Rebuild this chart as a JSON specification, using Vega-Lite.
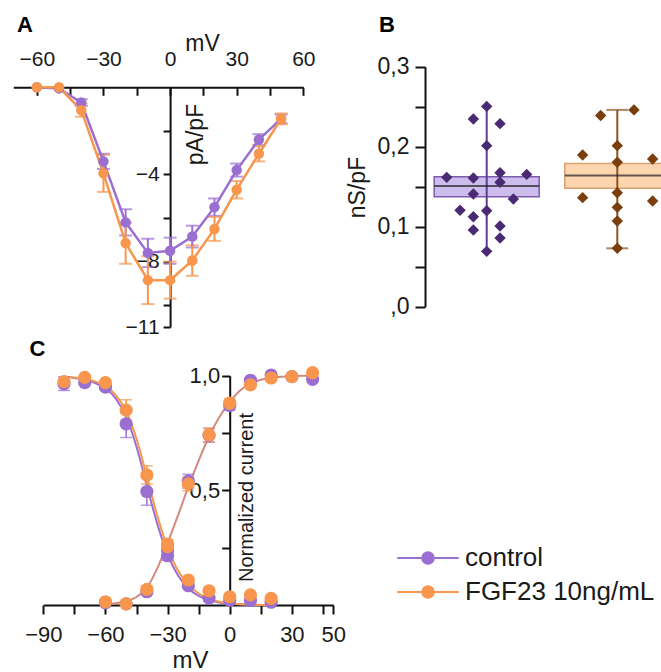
{
  "$schema": "https://vega.github.io/schema/vega-lite/v6.json",
  "width": 661,
  "height": 672,
  "padding": 0,
  "autosize": {"type": "none"},
  "background": "white",
  "config": {
    "view": {"stroke": null},
    "font": "Liberation Sans",
    "axis": {"labelFont": "Liberation Sans", "titleFont": "Liberation Sans", "titleFontWeight": "normal", "labelColor": "#1a1a1a", "titleColor": "#1a1a1a", "domainColor": "#111111", "tickColor": "#111111", "domainWidth": 2, "tickWidth": 2, "grid": false, "labelOverlap": false, "labelFlush": false},
    "legend": {"labelFont": "Liberation Sans"}
  },
  "datasets": {
    "iv": [
      {"series": "control", "mV": -60, "I": 0, "sem": 0},
      {"series": "control", "mV": -50, "I": -0.05, "sem": 0},
      {"series": "control", "mV": -40, "I": -0.7, "sem": 0.15},
      {"series": "control", "mV": -30, "I": -3.4, "sem": 0.35},
      {"series": "control", "mV": -20, "I": -6.2, "sem": 0.6},
      {"series": "control", "mV": -10, "I": -7.6, "sem": 0.65},
      {"series": "control", "mV": 0, "I": -7.5, "sem": 0.6},
      {"series": "control", "mV": 10, "I": -6.85, "sem": 0.5},
      {"series": "control", "mV": 20, "I": -5.5, "sem": 0.4},
      {"series": "control", "mV": 30, "I": -3.8, "sem": 0.3},
      {"series": "control", "mV": 40, "I": -2.4, "sem": 0.25},
      {"series": "control", "mV": 50, "I": -1.45, "sem": 0.2},
      {"series": "FGF23 10ng/mL", "mV": -60, "I": 0, "sem": 0},
      {"series": "FGF23 10ng/mL", "mV": -50, "I": 0, "sem": 0},
      {"series": "FGF23 10ng/mL", "mV": -40, "I": -1.05, "sem": 0.3},
      {"series": "FGF23 10ng/mL", "mV": -30, "I": -3.95, "sem": 0.85},
      {"series": "FGF23 10ng/mL", "mV": -20, "I": -7.15, "sem": 0.95},
      {"series": "FGF23 10ng/mL", "mV": -10, "I": -8.85, "sem": 1.1},
      {"series": "FGF23 10ng/mL", "mV": 0, "I": -8.85, "sem": 0.85},
      {"series": "FGF23 10ng/mL", "mV": 10, "I": -7.95, "sem": 0.7},
      {"series": "FGF23 10ng/mL", "mV": 20, "I": -6.5, "sem": 0.55},
      {"series": "FGF23 10ng/mL", "mV": 30, "I": -4.7, "sem": 0.4},
      {"series": "FGF23 10ng/mL", "mV": 40, "I": -3.05, "sem": 0.35},
      {"series": "FGF23 10ng/mL", "mV": 50, "I": -1.45, "sem": 0.25}
    ],
    "boxStats": [
      {"group": "control", "q1": 0.1375, "q3": 0.1625, "med": 0.151, "lo": 0.0692, "hi": 0.2504},
      {"group": "FGF23", "q1": 0.148, "q3": 0.179, "med": 0.164, "lo": 0.073, "hi": 0.246}
    ],
    "boxPts": [
      {"group": "control", "lane": -3, "val": 0.1617},
      {"group": "control", "lane": -1, "val": 0.2346},
      {"group": "control", "lane": 0, "val": 0.2504},
      {"group": "control", "lane": 1, "val": 0.2288},
      {"group": "control", "lane": 0, "val": 0.2013},
      {"group": "control", "lane": -1, "val": 0.1608},
      {"group": "control", "lane": 1, "val": 0.1675},
      {"group": "control", "lane": 1, "val": 0.1556},
      {"group": "control", "lane": 3, "val": 0.1654},
      {"group": "control", "lane": -1, "val": 0.1409},
      {"group": "control", "lane": 2, "val": 0.1346},
      {"group": "control", "lane": -2, "val": 0.1205},
      {"group": "control", "lane": 0, "val": 0.12},
      {"group": "control", "lane": -1, "val": 0.1125},
      {"group": "control", "lane": -1, "val": 0.0959},
      {"group": "control", "lane": 1, "val": 0.1009},
      {"group": "control", "lane": 1, "val": 0.0859},
      {"group": "control", "lane": 0, "val": 0.0692},
      {"group": "FGF23", "lane": -1.25, "val": 0.239},
      {"group": "FGF23", "lane": 1.25, "val": 0.246},
      {"group": "FGF23", "lane": 0, "val": 0.2013},
      {"group": "FGF23", "lane": -2.6, "val": 0.1896},
      {"group": "FGF23", "lane": 2.65, "val": 0.1846},
      {"group": "FGF23", "lane": 0, "val": 0.1805},
      {"group": "FGF23", "lane": 0, "val": 0.1425},
      {"group": "FGF23", "lane": -2.6, "val": 0.1363},
      {"group": "FGF23", "lane": 2.65, "val": 0.1321},
      {"group": "FGF23", "lane": 0, "val": 0.1242},
      {"group": "FGF23", "lane": 0, "val": 0.1071},
      {"group": "FGF23", "lane": 0, "val": 0.073}
    ],
    "ss": [
      {"series": "control", "kind": "act", "mV": -60, "v": 0.01, "sem": 0},
      {"series": "control", "kind": "act", "mV": -50, "v": 0.005, "sem": 0},
      {"series": "control", "kind": "act", "mV": -40, "v": 0.058, "sem": 0.012},
      {"series": "control", "kind": "act", "mV": -30, "v": 0.24, "sem": 0.02},
      {"series": "control", "kind": "act", "mV": -20, "v": 0.54, "sem": 0.03},
      {"series": "control", "kind": "act", "mV": -10, "v": 0.74, "sem": 0.03},
      {"series": "control", "kind": "act", "mV": 0, "v": 0.87, "sem": 0.02},
      {"series": "control", "kind": "act", "mV": 10, "v": 0.98, "sem": 0.01},
      {"series": "control", "kind": "act", "mV": 20, "v": 1.003, "sem": 0},
      {"series": "control", "kind": "act", "mV": 30, "v": 0.996, "sem": 0},
      {"series": "control", "kind": "act", "mV": 40, "v": 0.984, "sem": 0},
      {"series": "control", "kind": "inact", "mV": -80, "v": 0.965, "sem": 0.03},
      {"series": "control", "kind": "inact", "mV": -70, "v": 0.97, "sem": 0.01},
      {"series": "control", "kind": "inact", "mV": -60, "v": 0.95, "sem": 0.01},
      {"series": "control", "kind": "inact", "mV": -50, "v": 0.79, "sem": 0.06},
      {"series": "control", "kind": "inact", "mV": -40, "v": 0.495, "sem": 0.06},
      {"series": "control", "kind": "inact", "mV": -30, "v": 0.215, "sem": 0.02},
      {"series": "control", "kind": "inact", "mV": -20, "v": 0.084, "sem": 0.01},
      {"series": "control", "kind": "inact", "mV": -10, "v": 0.03, "sem": 0},
      {"series": "control", "kind": "inact", "mV": 0, "v": 0.02, "sem": 0},
      {"series": "control", "kind": "inact", "mV": 10, "v": 0.02, "sem": 0},
      {"series": "control", "kind": "inact", "mV": 20, "v": 0.012, "sem": 0},
      {"series": "FGF23 10ng/mL", "kind": "act", "mV": -60, "v": 0.014, "sem": 0},
      {"series": "FGF23 10ng/mL", "kind": "act", "mV": -50, "v": 0.005, "sem": 0},
      {"series": "FGF23 10ng/mL", "kind": "act", "mV": -40, "v": 0.068, "sem": 0.015},
      {"series": "FGF23 10ng/mL", "kind": "act", "mV": -30, "v": 0.255, "sem": 0.02},
      {"series": "FGF23 10ng/mL", "kind": "act", "mV": -20, "v": 0.528, "sem": 0.03},
      {"series": "FGF23 10ng/mL", "kind": "act", "mV": -10, "v": 0.742, "sem": 0.03},
      {"series": "FGF23 10ng/mL", "kind": "act", "mV": 0, "v": 0.88, "sem": 0.02},
      {"series": "FGF23 10ng/mL", "kind": "act", "mV": 10, "v": 0.96, "sem": 0.01},
      {"series": "FGF23 10ng/mL", "kind": "act", "mV": 20, "v": 0.99, "sem": 0},
      {"series": "FGF23 10ng/mL", "kind": "act", "mV": 30, "v": 0.996, "sem": 0},
      {"series": "FGF23 10ng/mL", "kind": "act", "mV": 40, "v": 1.013, "sem": 0},
      {"series": "FGF23 10ng/mL", "kind": "inact", "mV": -80, "v": 0.974, "sem": 0},
      {"series": "FGF23 10ng/mL", "kind": "inact", "mV": -70, "v": 0.993, "sem": 0},
      {"series": "FGF23 10ng/mL", "kind": "inact", "mV": -60, "v": 0.97, "sem": 0},
      {"series": "FGF23 10ng/mL", "kind": "inact", "mV": -50, "v": 0.85, "sem": 0.045},
      {"series": "FGF23 10ng/mL", "kind": "inact", "mV": -40, "v": 0.567, "sem": 0.04},
      {"series": "FGF23 10ng/mL", "kind": "inact", "mV": -30, "v": 0.266, "sem": 0.02},
      {"series": "FGF23 10ng/mL", "kind": "inact", "mV": -20, "v": 0.109, "sem": 0.01},
      {"series": "FGF23 10ng/mL", "kind": "inact", "mV": -10, "v": 0.062, "sem": 0},
      {"series": "FGF23 10ng/mL", "kind": "inact", "mV": 0, "v": 0.036, "sem": 0},
      {"series": "FGF23 10ng/mL", "kind": "inact", "mV": 10, "v": 0.044, "sem": 0},
      {"series": "FGF23 10ng/mL", "kind": "inact", "mV": 20, "v": 0.029, "sem": 0}
    ],
    "fit": [
      {"series": "both", "kind": "act", "mV": -60, "v": 0.004},
      {"series": "both", "kind": "act", "mV": -55, "v": 0.008},
      {"series": "both", "kind": "act", "mV": -50, "v": 0.016},
      {"series": "both", "kind": "act", "mV": -45, "v": 0.035},
      {"series": "both", "kind": "act", "mV": -40, "v": 0.075},
      {"series": "both", "kind": "act", "mV": -35, "v": 0.16},
      {"series": "both", "kind": "act", "mV": -30, "v": 0.27},
      {"series": "both", "kind": "act", "mV": -25, "v": 0.39},
      {"series": "both", "kind": "act", "mV": -20, "v": 0.515},
      {"series": "both", "kind": "act", "mV": -15, "v": 0.63},
      {"series": "both", "kind": "act", "mV": -10, "v": 0.735},
      {"series": "both", "kind": "act", "mV": -5, "v": 0.82},
      {"series": "both", "kind": "act", "mV": 0, "v": 0.885},
      {"series": "both", "kind": "act", "mV": 5, "v": 0.935},
      {"series": "both", "kind": "act", "mV": 10, "v": 0.965},
      {"series": "both", "kind": "act", "mV": 15, "v": 0.982},
      {"series": "both", "kind": "act", "mV": 20, "v": 0.99},
      {"series": "both", "kind": "act", "mV": 25, "v": 0.995},
      {"series": "both", "kind": "act", "mV": 30, "v": 0.998},
      {"series": "both", "kind": "act", "mV": 35, "v": 1.0},
      {"series": "both", "kind": "act", "mV": 40, "v": 1.0},
      {"series": "control", "kind": "inact", "mV": -80, "v": 0.995},
      {"series": "control", "kind": "inact", "mV": -75, "v": 0.99},
      {"series": "control", "kind": "inact", "mV": -70, "v": 0.982},
      {"series": "control", "kind": "inact", "mV": -65, "v": 0.968},
      {"series": "control", "kind": "inact", "mV": -60, "v": 0.945},
      {"series": "control", "kind": "inact", "mV": -55, "v": 0.9},
      {"series": "control", "kind": "inact", "mV": -50, "v": 0.82},
      {"series": "control", "kind": "inact", "mV": -45, "v": 0.69},
      {"series": "control", "kind": "inact", "mV": -40, "v": 0.52},
      {"series": "control", "kind": "inact", "mV": -35, "v": 0.355},
      {"series": "control", "kind": "inact", "mV": -30, "v": 0.22},
      {"series": "control", "kind": "inact", "mV": -25, "v": 0.13},
      {"series": "control", "kind": "inact", "mV": -20, "v": 0.072},
      {"series": "control", "kind": "inact", "mV": -15, "v": 0.04},
      {"series": "control", "kind": "inact", "mV": -10, "v": 0.022},
      {"series": "control", "kind": "inact", "mV": -5, "v": 0.011},
      {"series": "control", "kind": "inact", "mV": 0, "v": 0.005},
      {"series": "control", "kind": "inact", "mV": 10, "v": 0.001},
      {"series": "control", "kind": "inact", "mV": 20, "v": 0},
      {"series": "FGF23 10ng/mL", "kind": "inact", "mV": -80, "v": 0.996},
      {"series": "FGF23 10ng/mL", "kind": "inact", "mV": -75, "v": 0.992},
      {"series": "FGF23 10ng/mL", "kind": "inact", "mV": -70, "v": 0.986},
      {"series": "FGF23 10ng/mL", "kind": "inact", "mV": -65, "v": 0.975},
      {"series": "FGF23 10ng/mL", "kind": "inact", "mV": -60, "v": 0.955},
      {"series": "FGF23 10ng/mL", "kind": "inact", "mV": -55, "v": 0.915},
      {"series": "FGF23 10ng/mL", "kind": "inact", "mV": -50, "v": 0.845},
      {"series": "FGF23 10ng/mL", "kind": "inact", "mV": -45, "v": 0.725},
      {"series": "FGF23 10ng/mL", "kind": "inact", "mV": -40, "v": 0.56},
      {"series": "FGF23 10ng/mL", "kind": "inact", "mV": -35, "v": 0.39},
      {"series": "FGF23 10ng/mL", "kind": "inact", "mV": -30, "v": 0.25},
      {"series": "FGF23 10ng/mL", "kind": "inact", "mV": -25, "v": 0.15},
      {"series": "FGF23 10ng/mL", "kind": "inact", "mV": -20, "v": 0.09},
      {"series": "FGF23 10ng/mL", "kind": "inact", "mV": -15, "v": 0.05},
      {"series": "FGF23 10ng/mL", "kind": "inact", "mV": -10, "v": 0.028},
      {"series": "FGF23 10ng/mL", "kind": "inact", "mV": -5, "v": 0.014},
      {"series": "FGF23 10ng/mL", "kind": "inact", "mV": 0, "v": 0.007},
      {"series": "FGF23 10ng/mL", "kind": "inact", "mV": 10, "v": 0.002},
      {"series": "FGF23 10ng/mL", "kind": "inact", "mV": 20, "v": 0}
    ]
  },
  "layer": [
    {
      "data": {"name": "iv"},
      "layer": [
        {
          "transform": [{"filter": "datum.sem > 0"}],
          "mark": {"type": "errorbar", "ticks": {"size": 13}, "thickness": 2},
          "encoding": {
            "x": {"field": "mV", "type": "quantitative", "title": "mV"},
            "y": {"field": "I", "type": "quantitative", "title": "pA/pF"},
            "yError": {"field": "sem"},
            "color": {"field": "series", "type": "nominal"}
          }
        },
        {
          "mark": {"type": "line", "strokeWidth": 2.5},
          "encoding": {
            "x": {"field": "mV", "type": "quantitative", "title": "mV",
              "scale": {"domain": [-70.6, 60], "range": [13.3, 303.3], "nice": false, "zero": false},
              "axis": {"orient": "top", "offset": -87.3, "values": [-60, -45, -30, -15, 0, 15, 30, 45, 60], "labelExpr": "datum.value % 30 == 0 ? datum.label : ''", "tickSize": -8, "labelPadding": 26, "labelFontSize": 21, "title": "mV", "titleFontSize": 23, "titleX": 202, "titleY": -44, "titleAlign": "center", "titleBaseline": "middle", "titleAngle": 0}},
            "y": {"field": "I", "type": "quantitative", "title": "pA/pF",
              "scale": {"domain": [-11, 0], "range": [327, 87.3], "nice": false, "zero": false},
              "axis": {"orient": "left", "offset": -170.1, "values": [-2, -4, -6, -8, -10, -11], "format": "d", "labelExpr": "datum.value == -4 || datum.value == -8 || datum.value == -11 ? datum.label : ''", "tickSize": 7, "labelPadding": 4, "labelFontSize": 21, "title": "pA/pF", "titleFontSize": 23, "titleX": 25, "titleY": 134, "titleAngle": 270, "titleAlign": "center", "titleBaseline": "middle"}},
            "color": {"field": "series", "type": "nominal",
              "scale": {"domain": ["control", "FGF23 10ng/mL"], "range": ["#9b6fd2", "#f7964c"]},
              "legend": {"orient": "none", "legendX": 415, "legendY": 545, "title": null, "direction": "vertical",
                "symbolType": "M-5.3,0H5.3M1,0A1,1,0,1,1,-1,0A1,1,0,1,1,1,0Z", "symbolSize": 135, "symbolStrokeWidth": 2,
                "labelFontSize": 26, "labelColor": "#1a1a1a", "labelOffset": 24, "labelLimit": 0, "rowPadding": 8, "padding": 0, "symbolOffset": 0,
                "encode": {"symbols": {"update": {"fill": {"scale": "color", "field": "value"}, "stroke": {"scale": "color", "field": "value"}, "opacity": {"value": 1}}}}}}
          }
        },
        {
          "mark": {"type": "point", "filled": true, "size": 110, "opacity": 1},
          "encoding": {
            "x": {"field": "mV", "type": "quantitative", "title": "mV"},
            "y": {"field": "I", "type": "quantitative", "title": "pA/pF"},
            "color": {"field": "series", "type": "nominal"}
          }
        },
        {
          "data": {"values": [{}]},
          "mark": {"type": "text", "text": "A", "fontSize": 22, "fontWeight": "bold", "font": "Liberation Sans", "align": "center", "baseline": "middle", "color": "#000000"},
          "encoding": {"x": {"datum": -65.33}, "y": {"datum": 2.86}}
        },
        {
          "data": {"values": [{}]},
          "mark": {"type": "text", "text": "B", "fontSize": 22, "fontWeight": "bold", "font": "Liberation Sans", "align": "center", "baseline": "middle", "color": "#000000"},
          "encoding": {"x": {"datum": 97.7}, "y": {"datum": 2.86}}
        }
      ]
    },
    {
      "layer": [
        {
          "data": {"name": "boxStats"},
          "mark": {"type": "bar", "strokeWidth": 1.5, "width": 105},
          "encoding": {
            "x": {"field": "group", "type": "nominal",
              "scale": {"type": "band", "domain": ["control", "FGF23"], "range": [421.4, 682.6], "paddingInner": 0.196, "paddingOuter": 0.098},
              "axis": null},
            "y": {"field": "q1", "type": "quantitative", "title": "nS/pF",
              "scale": {"domain": [0, 0.3], "range": [306.7, 66.7], "nice": false, "zero": false},
              "axis": {"orient": "left", "offset": -425, "values": [0, 0.05, 0.1, 0.15, 0.2, 0.25, 0.3], "format": ".1f", "labelExpr": "datum.value == 0 ? ',0' : ((datum.value == 0.1 || datum.value == 0.2 || datum.value == 0.3) ? replace(datum.label, '.', ',') : '')", "tickSize": 10, "labelPadding": 6, "labelFontSize": 23, "title": "nS/pF", "titleFontSize": 23, "titleX": -68, "titleY": 187, "titleAngle": 270, "titleAlign": "center", "titleBaseline": "middle"}},
            "y2": {"field": "q3"},
            "fill": {"condition": {"test": "datum.group == 'control'", "value": "#ccbdec"}, "value": "#fdd6b0"},
            "stroke": {"condition": {"test": "datum.group == 'control'", "value": "#7b5bb0"}, "value": "#d9a070"}
          }
        },
        {
          "data": {"name": "boxStats"},
          "mark": {"type": "rule", "strokeWidth": 2},
          "encoding": {
            "x": {"field": "group", "type": "nominal"},
            "y": {"field": "lo", "type": "quantitative", "title": "nS/pF"},
            "y2": {"field": "hi"},
            "color": {"condition": {"test": "datum.group == 'control'", "value": "#5e3c8f"}, "value": "#8e5424"}
          }
        },
        {
          "data": {"name": "boxStats"},
          "transform": [{"filter": "datum.group == 'FGF23'"}],
          "mark": {"type": "tick", "size": 22, "thickness": 2, "color": "#8e5424"},
          "encoding": {
            "x": {"field": "group", "type": "nominal"},
            "y": {"field": "hi", "type": "quantitative", "title": "nS/pF"}
          }
        },
        {
          "data": {"name": "boxStats"},
          "transform": [{"filter": "datum.group == 'FGF23'"}],
          "mark": {"type": "tick", "size": 22, "thickness": 2, "color": "#8e5424"},
          "encoding": {
            "x": {"field": "group", "type": "nominal"},
            "y": {"field": "lo", "type": "quantitative", "title": "nS/pF"}
          }
        },
        {
          "data": {"name": "boxStats"},
          "mark": {"type": "tick", "size": 105, "thickness": 2, "color": "#222222"},
          "encoding": {
            "x": {"field": "group", "type": "nominal"},
            "y": {"field": "med", "type": "quantitative", "title": "nS/pF"}
          }
        },
        {
          "data": {"name": "boxPts"},
          "mark": {"type": "point", "shape": "diamond", "filled": true, "size": 130, "opacity": 1},
          "encoding": {
            "x": {"field": "group", "type": "nominal"},
            "xOffset": {"field": "lane", "type": "quantitative", "scale": {"domain": [-3, 3], "range": [12.5, 92.5]}},
            "y": {"field": "val", "type": "quantitative", "title": "nS/pF"},
            "color": {"condition": {"test": "datum.group == 'control'", "value": "#4a2a72"}, "value": "#7a3d0c"}
          }
        }
      ]
    },
    {
      "layer": [
        {
          "data": {"name": "fit"},
          "transform": [{"filter": "datum.kind == 'act'"}],
          "mark": {"type": "line", "strokeWidth": 2, "color": "#d4897f", "interpolate": "monotone"},
          "encoding": {
            "x": {"field": "mV", "type": "quantitative", "title": "mV",
              "scale": {"domain": [-90, 50], "range": [43.3, 333.3], "nice": false, "zero": false},
              "axis": {"orient": "bottom", "offset": -67, "values": [-90, -75, -60, -45, -30, -15, 0, 15, 30, 45, 50], "labelExpr": "indexof([-90, -60, -30, 0, 30, 50], datum.value) >= 0 ? datum.label : ''", "tickSize": 9, "labelPadding": 10, "labelFontSize": 22, "title": "mV", "titleFontSize": 24, "titleX": 190, "titleY": 55, "titleAlign": "center", "titleBaseline": "middle"}},
            "y": {"field": "v", "type": "quantitative", "title": "Normalized current",
              "scale": {"domain": [0, 1], "range": [605, 375.7], "nice": false, "zero": false},
              "axis": {"orient": "left", "offset": -229.7, "values": [0.25, 0.5, 0.75, 1], "format": ".1f", "labelExpr": "datum.value == 0.5 || datum.value == 1 ? replace(datum.label, '.', ',') : ''", "tickSize": 8, "labelPadding": 2, "labelFontSize": 22, "title": "Normalized current", "titleFontSize": 20, "titleX": 17, "titleY": 497, "titleAngle": 270, "titleAlign": "center", "titleBaseline": "middle"}}
          }
        },
        {
          "data": {"name": "fit"},
          "transform": [{"filter": "datum.kind == 'inact'"}],
          "mark": {"type": "line", "strokeWidth": 2, "interpolate": "monotone"},
          "encoding": {
            "x": {"field": "mV", "type": "quantitative", "title": "mV"},
            "y": {"field": "v", "type": "quantitative", "title": "Normalized current"},
            "color": {"field": "series", "type": "nominal"}
          }
        },
        {
          "data": {"name": "ss"},
          "transform": [{"filter": "datum.sem > 0"}],
          "mark": {"type": "errorbar", "ticks": {"size": 12}, "thickness": 1.5},
          "encoding": {
            "x": {"field": "mV", "type": "quantitative", "title": "mV"},
            "y": {"field": "v", "type": "quantitative", "title": "Normalized current"},
            "yError": {"field": "sem"},
            "color": {"field": "series", "type": "nominal"}
          }
        },
        {
          "data": {"name": "ss"},
          "mark": {"type": "point", "filled": true, "size": 175, "opacity": 1},
          "encoding": {
            "x": {"field": "mV", "type": "quantitative", "title": "mV"},
            "y": {"field": "v", "type": "quantitative", "title": "Normalized current"},
            "color": {"field": "series", "type": "nominal"}
          }
        },
        {
          "data": {"values": [{}]},
          "mark": {"type": "text", "text": "C", "fontSize": 22, "fontWeight": "bold", "font": "Liberation Sans", "align": "center", "baseline": "middle", "color": "#000000"},
          "encoding": {"x": {"datum": -92.8}, "y": {"datum": 1.1165}}
        }
      ]
    }
  ],
  "resolve": {"scale": {"x": "independent", "y": "independent"}, "axis": {"x": "independent", "y": "independent"}}
}
